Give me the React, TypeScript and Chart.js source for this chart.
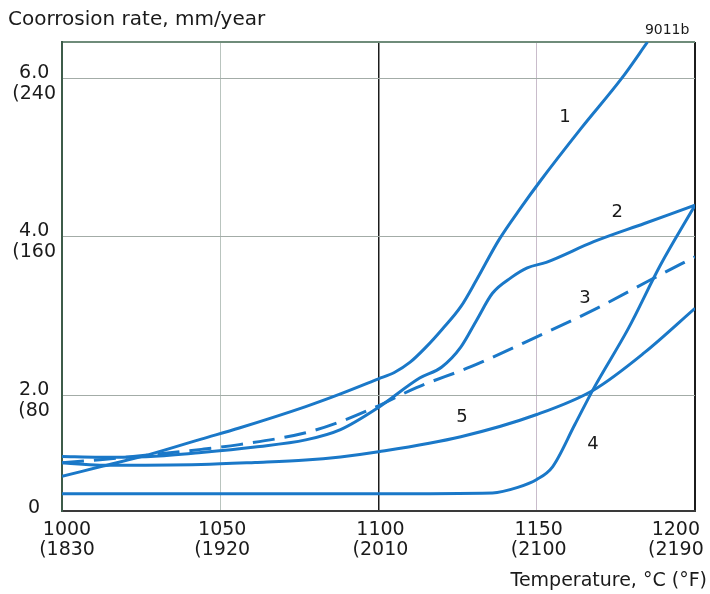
import React, { useEffect, useRef } from 'react';
import { Chart, registerables } from 'chart.js';

Chart.register(...registerables);

// ---- Data (temperature °C, corrosion rate) ----
const xMin = 1000;
const xMax = 1200;
const yMin = 0.54;
const yMax = 6.46;

const xTickValues = [1000, 1050, 1100, 1150, 1200];
const xTickLabels = [
  ['1000', '(1830'],
  ['1050', '(1920'],
  ['1100', '(2010'],
  ['1150', '(2100'],
  ['1200', '(2190'],
];
const yTickValues = [0.64, 2, 4, 6, yMax];
const yTickLabels = [['0'], ['2.0', '(80'], ['4.0', '(160'], ['6.0', '(240'], ['']];

const curve1X = [1000, 1012, 1028, 1044, 1056, 1077, 1088, 1100, 1105, 1110, 1115, 1120, 1126, 1131, 1138, 1145, 1151, 1164, 1177, 1185];
const curve1Y = [0.98, 1.1, 1.26, 1.45, 1.59, 1.86, 2.02, 2.21, 2.29, 2.42, 2.61, 2.83, 3.12, 3.46, 3.96, 4.37, 4.7, 5.37, 6.01, 6.46];

const curve2X = [1000, 1012, 1028, 1044, 1061, 1077, 1088, 1100, 1113, 1120, 1126, 1131, 1136, 1142, 1147, 1153, 1168, 1184, 1200];
const curve2Y = [1.23, 1.22, 1.23, 1.28, 1.35, 1.44, 1.57, 1.85, 2.22, 2.36, 2.61, 2.95, 3.29, 3.49, 3.61, 3.68, 3.94, 4.17, 4.4];

const curve3X = [1000, 1012, 1044, 1056, 1077, 1088, 1100, 1112, 1129, 1150, 1168, 1186, 1200];
const curve3Y = [1.15, 1.19, 1.32, 1.38, 1.53, 1.67, 1.87, 2.1, 2.36, 2.74, 3.08, 3.46, 3.75];

const curve4X = [1000, 1100, 1136, 1144, 1150, 1155, 1162, 1168, 1179, 1189, 1200];
const curve4Y = [0.76, 0.76, 0.77, 0.84, 0.94, 1.1, 1.63, 2.09, 2.85, 3.64, 4.4];

const curve5X = [1000, 1012, 1044, 1061, 1077, 1088, 1100, 1126, 1150, 1168, 1184, 1200];
const curve5Y = [1.15, 1.12, 1.13, 1.155, 1.185, 1.225, 1.29, 1.48, 1.76, 2.07, 2.54, 3.1];

const curveLabelText = ['1', '2', '3', '4', '5'];
const curveLabelX = [1158.9, 1175.4, 1165.2, 1167.8, 1126.4];
const curveLabelY = [5.51, 4.31, 3.23, 1.38, 1.73];

const noteText = '9011b';
const noteX = 1191.2;
const noteY = 6.61;

const yTitle = 'Coorrosion rate, mm/year';
const xTitle = 'Temperature, °C (°F)';

// ---- Styles ----
const BLUE = '#1a78c8';
const TEXT = '#1a1a1a';
const FONT = 'DejaVu Sans';

const toPoints = (xs: number[], ys: number[]) => xs.map((x, i) => ({ x, y: ys[i] }));

const curveLabelsPlugin = {
  id: 'curveLabels',
  afterDatasetsDraw(chart: any) {
    const { ctx, scales } = chart;
    const xs = scales.x;
    const ys = scales.y;
    ctx.save();
    ctx.fillStyle = TEXT;
    ctx.textAlign = 'center';
    ctx.textBaseline = 'middle';
    ctx.font = `18px "${FONT}"`;
    curveLabelText.forEach((t, i) => {
      ctx.fillText(t, xs.getPixelForValue(curveLabelX[i]), ys.getPixelForValue(curveLabelY[i]));
    });
    ctx.font = `14px "${FONT}"`;
    ctx.fillText(noteText, xs.getPixelForValue(noteX), ys.getPixelForValue(noteY));
    ctx.restore();
  },
};

export default function App() {
  const ref = useRef<HTMLCanvasElement>(null);

  useEffect(() => {
    if (!ref.current) return;
    const mk = (xs: number[], ys: number[], dash?: number[]) => ({
      data: toPoints(xs, ys),
      borderColor: BLUE,
      backgroundColor: BLUE,
      borderWidth: 3,
      pointRadius: 0,
      fill: false,
      cubicInterpolationMode: 'monotone' as const,
      borderDash: dash || [],
    });

    const chart = new Chart(ref.current, {
      type: 'line',
      data: {
        datasets: [
          mk(curve1X, curve1Y),
          mk(curve2X, curve2Y),
          mk(curve3X, curve3Y, [22, 10]),
          mk(curve4X, curve4Y),
          mk(curve5X, curve5Y),
        ],
      },
      options: {
        animation: false,
        responsive: false,
        devicePixelRatio: 1,
        layout: { padding: { left: 8, right: 3, top: 0, bottom: 0 } },
        plugins: {
          legend: { display: false },
          tooltip: { enabled: false },
          title: {
            display: true,
            text: yTitle,
            align: 'start',
            position: 'top',
            color: TEXT,
            font: { family: FONT, size: 20, weight: 'normal', lineHeight: 1.2 },
            padding: { top: 8, bottom: 10 },
          },
          subtitle: {
            display: true,
            text: xTitle,
            align: 'end',
            position: 'bottom',
            color: TEXT,
            font: { family: FONT, size: 19, weight: 'normal', lineHeight: 1.2 },
            padding: { top: 8, bottom: 2 },
          },
        },
        scales: {
          x: {
            type: 'linear',
            min: xMin,
            max: xMax,
            afterBuildTicks: (scale: any) => {
              scale.ticks = xTickValues.map((v) => ({ value: v }));
            },
            afterFit: (scale: any) => {
              scale.height = 50;
              scale.paddingLeft = 0;
              scale.paddingRight = 15;
            },
            ticks: {
              color: TEXT,
              font: { family: FONT, size: 19, lineHeight: 1.1 },
              padding: 8,
              labelOffset: 2,
              maxRotation: 0,
              autoSkip: false,
              callback: (_v: any, i: number) => {
                const lab = xTickLabels[i] || [''];
                if (i === 0) return lab.map((s) => ' ' + s);
                if (i === xTickLabels.length - 1) return lab.map((s) => s + '       ');
                return lab;
              },
            },
            grid: {
              drawTicks: false,
              color: (c: any) => {
                const v = c.tick ? c.tick.value : 0;
                if (v === 1100) return '#1c1c1c';
                if (v === 1200) return '#1c1c1c';
                if (v === 1150) return '#c9bccb';
                return '#b9c4be';
              },
              lineWidth: (c: any) => {
                const v = c.tick ? c.tick.value : 0;
                if (v === 1100) return 1.5;
                if (v === 1200) return 2;
                return 1;
              },
            },
            border: { color: '#3a3a3a', width: 2 },
          },
          y: {
            type: 'linear',
            min: yMin,
            max: yMax,
            afterBuildTicks: (scale: any) => {
              scale.ticks = yTickValues.map((v) => ({ value: v }));
            },
            afterFit: (scale: any) => {
              scale.width = 54;
              scale.paddingTop = 0;
              scale.paddingBottom = 0;
            },
            ticks: {
              color: TEXT,
              font: { family: FONT, size: 19, lineHeight: 1.1 },
              padding: 6,
              crossAlign: 'center',
              labelOffset: 5,
              autoSkip: false,
              callback: (_v: any, i: number) => yTickLabels[i] || '',
            },
            grid: {
              drawTicks: false,
              color: (c: any) => {
                const i = c.index;
                if (i === 0) return 'rgba(0,0,0,0)';
                if (i === yTickValues.length - 1) return '#6f8c7a';
                return '#a3aca7';
              },
              lineWidth: (c: any) => (c.index === yTickValues.length - 1 ? 2 : 1),
            },
            border: { color: '#3d5c4a', width: 2 },
          },
        },
      } as any,
      plugins: [curveLabelsPlugin],
    });
    return () => chart.destroy();
  }, []);

  return (
    <div style={{ position: 'absolute', left: 0, top: 0, width: 710, height: 594, background: '#fff' }}>
      <canvas ref={ref} width={710} height={594} style={{ display: 'block', width: 710, height: 594 }} />
    </div>
  );
}
